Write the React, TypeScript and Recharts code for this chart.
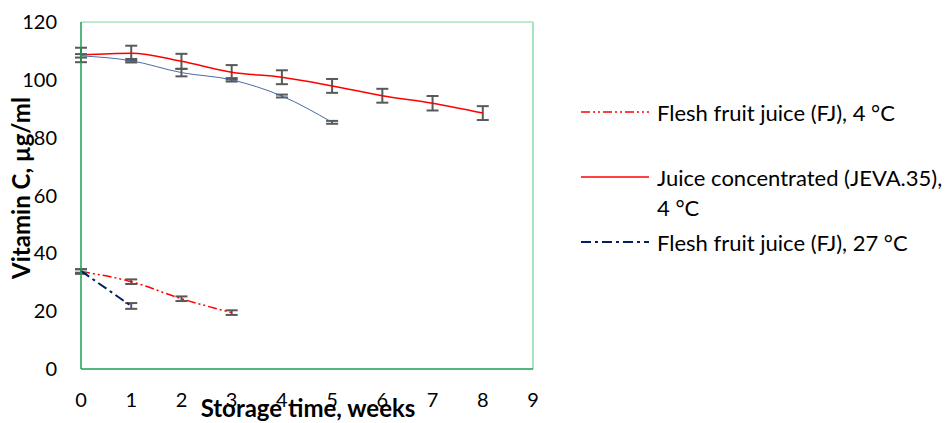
import React from 'react';
import { LineChart, Line, XAxis, YAxis, ErrorBar, ReferenceLine, Label } from 'recharts';

// storage time (weeks) and vitamin C readings
const weeks = [0, 1, 2, 3, 4, 5, 6, 7, 8];
const fj4Values = [33.7, 30.2, 24.3, 19.5];
const fj4Errors = [0.8, 0.8, 0.8, 0.8];
const jeva4Values = [108.6, 109.2, 106.4, 102.6, 100.9, 97.9, 94.5, 91.9, 88.5];
const jeva4Errors = [2.5, 2.6, 2.6, 2.5, 2.4, 2.4, 2.4, 2.5, 2.4];
const fj27Values = [33.9, 21.8];
const fj27Errors = [0.6, 1.0];
const jeva27Values = [108.3, 106.6, 102.5, 100.0, 94.4, 85.3];
const jeva27Errors = [0.6, 0.6, 1.3, 0.6, 0.5, 0.5];

const xTicks = [0, 1, 2, 3, 4, 5, 6, 7, 8, 9];
const yTicks = [0, 20, 40, 60, 80, 100, 120];

const toRows = (values: number[], errors: number[]) =>
  values.map((v, i) => ({ week: weeks[i], value: v, err: errors[i] }));

const fj4 = toRows(fj4Values, fj4Errors);
const jeva4 = toRows(jeva4Values, jeva4Errors);
const fj27 = toRows(fj27Values, fj27Errors);
const jeva27 = toRows(jeva27Values, jeva27Errors);

const FONT = 'Lato, "Open Sans", sans-serif';

const legendItems = [
  { label: ['Flesh fruit juice (FJ), 4 °C'], color: '#ff0000', dash: '9 3 2 3 2 3', width: 1.5 },
  { label: ['Juice concentrated (JEVA.35),', '4 °C'], color: '#ff0000', dash: undefined, width: 1.5 },
  { label: ['Flesh fruit juice (FJ), 27 °C'], color: '#002060', dash: '10 4 3 4', width: 2 },
];

const rowTops = [0, 65, 130];

// legend drawn beside the chart, like the original's right-hand key
const LegendBox = () => (
  <div style={{ position: 'absolute', left: 581, top: 98, width: 360, height: 170, fontFamily: FONT, fontSize: 22, color: '#000' }}>
    {legendItems.map((item, i) => (
      <div key={i} style={{ position: 'absolute', left: 0, top: rowTops[i] }}>
        <svg width={70} height={28} style={{ position: 'absolute', left: 0, top: 0 }}>
          <line x1={0} y1={14} x2={68} y2={14} stroke={item.color} strokeWidth={item.width} strokeDasharray={item.dash} />
        </svg>
        <div style={{ position: 'absolute', left: 76, top: 0, lineHeight: '30px', whiteSpace: 'nowrap' }}>
          {item.label.map((t, j) => (
            <div key={j}>{t}</div>
          ))}
        </div>
      </div>
    ))}
  </div>
);

const App = () => {
  return (
    <div style={{ position: 'absolute', left: 0, top: 0, width: 945, height: 423, background: '#fff' }}>
      <LineChart width={945} height={423} margin={{ top: 22, right: 412, left: 0, bottom: 0 }}>
        <XAxis
          type="number"
          dataKey="week"
          domain={[0, 9]}
          ticks={xTicks}
          interval={0}
          height={54}
          tickSize={0}
          tickMargin={24}
          axisLine={{ stroke: '#1e9e55', strokeWidth: 1.5 }}
          tick={{ fontFamily: FONT, fontSize: 20, fill: '#000' }}
        >
          <Label
            content={() => (
              <text x={308} y={417} textAnchor="middle" fontFamily={FONT} fontSize={24} fontWeight="bold" fill="#000">
                Storage time, weeks
              </text>
            )}
          />
        </XAxis>
        <YAxis
          type="number"
          domain={[0, 120]}
          ticks={yTicks}
          interval={0}
          width={81}
          tickSize={0}
          tickMargin={24}
          axisLine={{ stroke: '#1e9e55', strokeWidth: 1.5 }}
          tick={{ fontFamily: FONT, fontSize: 20, fill: '#000' }}
        >
          <Label
            content={() => (
              <text
                x={30}
                y={188}
                textAnchor="middle"
                transform="rotate(-90 30 188)"
                fontFamily={FONT}
                fontSize={24}
                fontWeight="bold"
                fill="#000"
              >
                Vitamin C, µg/ml
              </text>
            )}
          />
        </YAxis>
        <ReferenceLine y={120} stroke="#a6e3c2" strokeWidth={1.5} />
        <ReferenceLine x={9} stroke="#a6e3c2" strokeWidth={2} />
        <Line
          data={jeva4}
          dataKey="value"
          name="Juice concentrated (JEVA.35), 4 °C"
          type="monotone"
          stroke="#ff0000"
          strokeWidth={1.5}
          dot={false}
          isAnimationActive={false}
        >
          <ErrorBar dataKey="err" direction="y" width={6} stroke="#595959" strokeWidth={2} />
        </Line>
        <Line
          data={jeva27}
          dataKey="value"
          name="Juice concentrated (JEVA.35), 27 °C"
          type="monotone"
          stroke="#4a6aa8"
          strokeWidth={1}
          dot={false}
          isAnimationActive={false}
        >
          <ErrorBar dataKey="err" direction="y" width={6} stroke="#595959" strokeWidth={2} />
        </Line>
        <Line
          data={fj4}
          dataKey="value"
          name="Flesh fruit juice (FJ), 4 °C"
          type="monotone"
          stroke="#ff0000"
          strokeWidth={1.5}
          strokeDasharray="9 3 2 3 2 3"
          dot={false}
          isAnimationActive={false}
        >
          <ErrorBar dataKey="err" direction="y" width={6} stroke="#595959" strokeWidth={2} />
        </Line>
        <Line
          data={fj27}
          dataKey="value"
          name="Flesh fruit juice (FJ), 27 °C"
          type="monotone"
          stroke="#002060"
          strokeWidth={2}
          strokeDasharray="10 4 3 4"
          dot={false}
          isAnimationActive={false}
        >
          <ErrorBar dataKey="err" direction="y" width={6} stroke="#595959" strokeWidth={2} />
        </Line>
      </LineChart>
      <LegendBox />
    </div>
  );
};

export default App;
